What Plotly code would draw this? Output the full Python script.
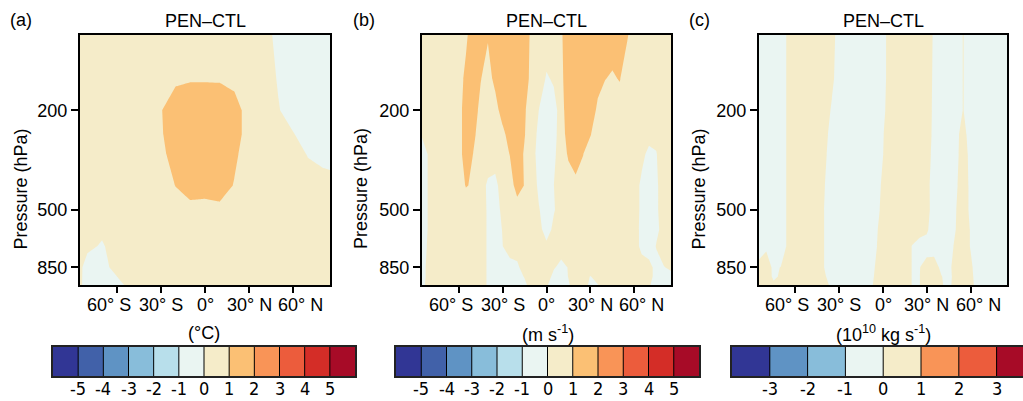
import math
import plotly.graph_objects as go

W, H = 1023, 401

# ---------------- data ----------------
# Panel (a): temperature difference (°C)
lat_a = [-85, -80, -70, -60, -50, -40, -30, -20, -10, 0, 10, 20, 30, 40, 50, 60, 70, 80, 85]
p_a = [100, 150, 200, 250, 300, 400, 500, 700, 850, 1000]
t_a = [
    [0.5, 0.5, 0.5, 0.5, 0.5, 0.5, 0.5, 0.5, 0.5, 0.5, 0.5, 0.5, 0.5, 0.4, -0.3, -0.4, -0.4, -0.4, -0.4],
    [0.5, 0.5, 0.5, 0.5, 0.5, 0.5, 0.6, 0.84, 0.93, 0.93, 0.93, 0.73, 0.5, 0.45, -0.08, -0.4, -0.4, -0.4, -0.4],
    [0.5, 0.5, 0.5, 0.5, 0.5, 0.5, 0.95, 1.5, 1.6, 1.6, 1.5, 1.4, 0.6, 0.5, 0.05, -0.4, -0.4, -0.4, -0.4],
    [0.5, 0.5, 0.5, 0.5, 0.5, 0.5, 0.9, 1.5, 1.6, 1.6, 1.5, 1.4, 0.6, 0.5, 0.4, 0.05, -0.4, -0.4, -0.4],
    [0.5, 0.5, 0.5, 0.5, 0.5, 0.5, 0.7, 1.5, 1.6, 1.6, 1.5, 1.15, 0.6, 0.5, 0.5, 0.4, -0.05, -0.3, -0.35],
    [0.5, 0.5, 0.5, 0.5, 0.5, 0.5, 0.5, 1.02, 1.3, 1.3, 1.4, 0.95, 0.5, 0.5, 0.5, 0.5, 0.4, 0.4, 0.35],
    [0.5, 0.5, 0.5, 0.5, 0.5, 0.5, 0.5, 0.6, 0.8, 0.75, 0.8, 0.6, 0.5, 0.5, 0.5, 0.5, 0.5, 0.5, 0.5],
    [0.5, 0.2, -0.1, 0.4, 0.5, 0.5, 0.5, 0.5, 0.5, 0.5, 0.5, 0.5, 0.5, 0.5, 0.5, 0.5, 0.5, 0.5, 0.5],
    [0.2, -0.4, -0.3, 0.3, 0.5, 0.5, 0.5, 0.5, 0.5, 0.5, 0.5, 0.5, 0.5, 0.5, 0.5, 0.5, 0.5, 0.5, 0.5],
    [0.2, -0.5, -0.5, -0.3, 0.3, 0.5, 0.5, 0.5, 0.5, 0.5, 0.5, 0.5, 0.5, 0.5, 0.5, 0.5, 0.5, 0.5, 0.5],
]
missing_a_lat = [-85, -80.5]
missing_a_p = [500, 1000]

# Panels (b) and (c) share a 5-degree latitude grid
lat_bc = [-85, -80, -75, -70, -65, -60, -55, -50, -45, -40, -35, -30, -25, -20, -15, -10, -5, 0,
          5, 10, 15, 20, 25, 30, 35, 40, 45, 50, 55, 60, 65, 70, 75, 80, 85]
p_bc = [100, 150, 200, 250, 300, 400, 500, 600, 700, 850, 925, 1000]

# Panel (b): zonal wind difference (m s-1)
u_b = [
    [0.5, 0.5, 0.5, 0.5, 0.5, 0.5, 0.84, 1.5, 1.5, 1.1, 1.5, 1.5, 1.5, 1.5, 1.5, 0.77, 0.5, 0.5,
     0.6, 0.89, 1.5, 1.5, 1.5, 1.5, 1.5, 1.5, 1.5, 1.5, 1.1, 0.5, 0.5, 0.5, 0.5, 0.5, 0.5],
    [0.5, 0.5, 0.5, 0.5, 0.5, 0.64, 1.2, 1.5, 1.05, 0.55, 1.3, 1.5, 1.5, 1.5, 1.5, 0.64, 0.5, -0.1,
     0.1, 0.8, 1.5, 1.5, 1.5, 1.5, 1.3, 1.02, 0.875, 1.05, 0.5, 0.5, 0.5, 0.5, 0.5, 0.5, 0.5],
    [0.5, 0.5, 0.5, 0.5, 0.5, 0.57, 1.5, 1.5, 0.72, 0.5, 0.54, 1.5, 1.5, 1.5, 1.1, 0.54, -0.03, -0.6,
     -0.3, 0.35, 1.9, 1.5, 1.5, 1.5, 0.82, 0.5, 0.5, 0.5, 0.5, 0.5, 0.5, 0.5, 0.5, 0.5, 0.5],
    [0.1, 0.5, 0.5, 0.5, 0.5, 0.57, 1.5, 1.2, 0.58, 0.5, 0.5, 0.67, 1.5, 1.5, 1.05, 0.45, -0.25, -0.6,
     -0.4, 0.6, 1.34, 1.5, 1.5, 1.05, 0.5, 0.5, 0.5, 0.5, 0.5, 0.5, 0.5, 0.4, 0.2, 0.5, 0.5],
    [-0.5, 0.15, 0.5, 0.5, 0.5, 0.57, 1.5, 0.98, 0.5, 0.5, 0.5, 0.5, 1.03, 1.5, 0.89, 0.3, -0.3, -0.6,
     -0.2, 0.51, 1.11, 1.5, 1.02, 0.5, 0.5, 0.5, 0.5, 0.5, 0.5, 0.5, 0.3, -0.3, -0.04, 0.5, 0.5],
    [-0.5, 0.15, 0.5, 0.5, 0.5, 0.5, 1.05, 0.9, 0.4, -0.15, -0.3, 0.5, 0.5, 1.43, 0.96, 0.5, -0.21, -0.5,
     -0.01, 0.5, 0.6, 0.73, 0.6, 0.5, 0.5, 0.5, 0.5, 0.5, 0.5, 0.5, -0.24, -0.5, -0.1, 0.3, 0.5],
    [-0.5, 0.15, 0.5, 0.5, 0.5, 0.5, 0.5, 0.5, 0.5, -0.125, -0.4, 0.21, 0.5, 0.5, 0.5, 0.5, 0.04, -0.46,
     -0.1, 0.5, 0.5, 0.5, 0.5, 0.5, 0.5, 0.5, 0.5, 0.5, 0.5, 0.5, -0.24, -0.5, -0.1, 0.3, 0.5],
    [-0.5, 0.15, 0.5, 0.5, 0.5, 0.5, 0.5, 0.5, 0.5, -0.125, -0.4, 0.035, 0.5, 0.5, 0.5, 0.5, 0.4, -0.6,
     0.3, 0.5, 0.5, 0.5, 0.5, 0.5, 0.5, 0.5, 0.5, 0.5, 0.5, 0.5, -0.3, -0.5, -0.2, 0.3, 0.5],
    [-0.4, 0.2, 0.5, 0.5, 0.5, 0.5, 0.5, 0.5, 0.5, -0.125, -0.4, -0.02, 0.5, 0.5, 0.5, 0.5, 0.5, 0.3,
     0.5, 0.5, 0.5, 0.5, 0.5, 0.5, 0.5, 0.5, 0.5, 0.5, 0.5, 0.5, -0.3, -0.5, 0.05, 0.5, 0.5],
    [-0.3, 0.3, 0.5, 0.5, 0.5, 0.5, 0.5, 0.5, 0.5, -0.125, -0.4, -0.4, -0.4, -0.21, 0.5, 0.5, 0.5, 0.5,
     0.1, -0.3, 0.05, 0.5, 0.5, 0.5, 0.5, 0.5, 0.5, 0.5, 0.5, 0.5, 0.5, 0.3, -0.3, -0.05, 0.2],
    [-0.3, 0.3, 0.5, 0.5, 0.5, 0.5, 0.5, 0.5, 0.5, -0.125, -0.4, -0.4, -0.4, -0.3, 0.05, 0.5, 0.5, 0.5,
     -0.28, -0.4, 0.03, 0.5, 0.5, -0.05, 0.5, 0.5, 0.5, 0.5, 0.5, 0.5, 0.5, 0.3, -0.3, -0.4, -0.3],
    [-0.2, 0.3, 0.5, 0.5, 0.5, 0.5, 0.5, 0.5, 0.5, -0.125, -0.4, -0.4, -0.4, -0.4, -0.2, 0.4, 0.5, 0.1,
     -0.4, -0.4, -0.1, 0.5, 0.4, -0.2, -0.05, 0.5, 0.5, 0.5, 0.5, 0.5, 0.5, 0.1, -0.4, -0.4, -0.4],
]

# Panel (c): mass stream function difference (10^10 kg s-1)
psi_c = [
    [-0.5, -0.5, -0.5, -0.5, 0.18, 0.5, 0.5, 0.5, 0.5, 0.5, 0.4, -0.5, -0.5, -0.5, -0.5, -0.5, -0.5, -0.4,
     0.55, 0.5, 0.5, 0.5, 0.5, 0.5, -0.125, -0.5, -0.5, -0.4, 0.03, -0.5, -0.5, -0.5, -0.5, -0.5, -0.5],
    [-0.5, -0.5, -0.5, -0.5, 0.18, 0.5, 0.5, 0.5, 0.5, 0.5, 0.2, -0.5, -0.5, -0.5, -0.5, -0.5, -0.5, -0.4,
     0.55, 0.5, 0.5, 0.5, 0.5, 0.5, -0.18, -0.5, -0.5, -0.4, 0.03, -0.5, -0.5, -0.5, -0.5, -0.5, -0.5],
    [-0.5, -0.5, -0.5, -0.5, 0.18, 0.5, 0.5, 0.5, 0.5, 0.5, -0.125, -0.5, -0.5, -0.5, -0.5, -0.5, -0.5, -0.3,
     0.64, 0.5, 0.5, 0.5, 0.5, 0.5, -0.21, -0.5, -0.5, -0.4, 0.03, -0.5, -0.5, -0.5, -0.5, -0.5, -0.5],
    [-0.5, -0.5, -0.5, -0.5, 0.18, 0.5, 0.5, 0.5, 0.5, 0.5, -0.59, -0.5, -0.5, -0.5, -0.5, -0.5, -0.5, -0.05,
     0.45, 0.5, 0.5, 0.5, 0.5, 0.5, -0.26, -0.5, -0.5, -0.3, 0.4, -0.5, -0.5, -0.5, -0.5, -0.5, -0.5],
    [-0.5, -0.5, -0.5, -0.5, 0.18, 0.5, 0.5, 0.5, 0.5, 0.2, -0.5, -0.5, -0.5, -0.5, -0.5, -0.5, -0.5, -0.02,
     0.5, 0.5, 0.5, 0.5, 0.5, 0.5, -0.39, -0.5, -0.5, -0.3, 0.5, -0.3, -0.5, -0.5, -0.5, -0.5, -0.5],
    [-0.5, -0.5, -0.5, -0.5, 0.18, 0.5, 0.5, 0.5, 0.5, 0.02, -0.5, -0.5, -0.5, -0.5, -0.5, -0.5, -0.5, 0.21,
     0.5, 0.5, 0.5, 0.5, 0.5, 0.5, -0.75, -0.5, -0.5, -0.15, 0.5, -0.2, -0.5, -0.5, -0.5, -0.5, -0.5],
    [-0.5, -0.5, -0.5, -0.5, 0.18, 0.5, 0.5, 0.5, 0.5, -0.04, -0.5, -0.5, -0.5, -0.5, -0.5, -0.5, -0.5, 0.39,
     0.5, 0.5, 0.5, 0.5, 0.5, 0.5, -0.67, -0.5, -0.5, -0.03, 0.5, -0.2, -0.5, -0.5, -0.5, -0.5, -0.5],
    [-0.5, -0.5, -0.5, -0.5, 0.18, 0.5, 0.5, 0.5, 0.5, -0.04, -0.5, -0.5, -0.5, -0.5, -0.5, -0.5, -0.2, 0.5,
     0.5, 0.5, 0.5, 0.5, 0.5, 0.2, -0.7, -0.5, -0.5, 0.01, 0.5, -0.05, -0.5, -0.5, -0.5, -0.5, -0.5],
    [-0.5, -0.1, -0.5, -0.5, 0.18, 0.5, 0.5, 0.5, 0.5, -0.04, -0.5, -0.5, -0.5, -0.5, -0.5, -0.5, -0.1, 0.45,
     0.5, 0.5, 0.5, -0.04, -0.5, -0.5, -0.5, -0.5, -0.5, 0.25, 0.5, -0.05, -0.5, -0.5, -0.5, -0.5, -0.5],
    [0.3, 0.3, -0.12, 0.02, 0.5, 0.5, 0.5, 0.5, 0.5, -0.04, -0.5, -0.5, -0.5, -0.5, -0.5, -0.5, 0.07, 0.5,
     0.5, 0.5, 0.5, -0.04, -0.05, 0.45, 0.5, -0.26, -0.3, 0.5, 0.5, 0.2, -0.5, -0.5, -0.5, -0.5, -0.5],
    [0.3, 0.3, -0.1, 0.07, 0.5, 0.5, 0.5, 0.5, 0.5, 0.1, -0.4, -0.5, -0.5, -0.5, -0.5, -0.5, 0.16, 0.5,
     0.5, 0.5, 0.5, -0.04, -0.03, 0.5, 0.5, 0.05, -0.4, 0.5, 0.5, 0.3, -0.5, -0.5, -0.5, -0.5, -0.5],
    [0.3, 0.3, 0.1, 0.3, 0.5, 0.5, 0.5, 0.5, 0.5, 0.5, -0.36, -0.5, -0.5, -0.5, -0.5, -0.5, 0.33, 0.5,
     0.5, 0.5, 0.5, -0.04, -0.03, 0.5, 0.5, 0.1, -0.3, 0.5, 0.5, 0.4, -0.5, -0.5, -0.5, -0.5, -0.5],
]
missing_c_lat = [-85, -80.5]
missing_c_p = [850, 1000]

# contour levels / colour bins
levels_ab = [-5, -4, -3, -2, -1, 0, 1, 2, 3, 4, 5]
levels_c = [-3, -2, -1, 0, 1, 2, 3]
colors_ab = ["#313695", "#4161a9", "#5f93c4", "#88bdda", "#b8dfeb", "#eaf5f2",
             "#f5ecc9", "#fbc074", "#f99457", "#ec5c3c", "#d42d27", "#a70b27"]
colors_c = ["#313695", "#5f93c4", "#88bdda", "#eaf5f2", "#f5ecc9", "#f99457", "#ec5c3c", "#a70b27"]

lat_ticks = [-60, -30, 0, 30, 60]
lat_ticktext = ["60° S", "30° S", "0°", "30° N", "60° N"]
lat_label_shift = [-8, 0, 0, 0, 7.5]      # outer labels sit slightly outward
p_ticks = [200, 500, 850]
p_ticktext = ["200", "500", "850"]

panel_letters = ["(a)", "(b)", "(c)"]
panel_title = "PEN\u2013CTL"
unit_titles = ["(°C)", "(m s<sup>-1</sup>)", "(10<sup>10</sup> kg s<sup>-1</sup>)"]
ytitle = "Pressure (hPa)"

# ---------------- layout geometry (pixels) ----------------
panel_x = [(80, 330), (422, 671), (759, 1007)]
panel_y = (35, 285)
bar_x = [(53, 355), (396, 699), (732, 1023)]
bar_y = (347, 376)
c_box_px = 37.8

FONT = "Liberation Sans, Arial, Helvetica, sans-serif"
NARROW = "Liberation Sans Narrow, Arial Narrow, DejaVu Sans Condensed, Liberation Sans, sans-serif"
FS = 18


def fx(x):
    return x / W


def fy(y):
    return 1 - y / H


def discrete_scale(colors):
    n = len(colors)
    return [[k / (n - 1), c] for k, c in enumerate(colors)]


fig = go.Figure()

panels = [
    (lat_a, p_a, t_a, levels_ab, colors_ab, (missing_a_lat, missing_a_p)),
    (lat_bc, p_bc, u_b, levels_ab, colors_ab, None),
    (lat_bc, p_bc, psi_c, levels_c, colors_c, (missing_c_lat, missing_c_p)),
]

layout_axes = {}
annotations = []
for i, (lat, p, z, levels, colors, missing) in enumerate(panels):
    xa = "x" if i == 0 else "x%d" % (i + 1)
    ya = "y" if i == 0 else "y%d" % (i + 1)
    step = levels[1] - levels[0]
    fig.add_trace(go.Contour(
        x=lat, y=p, z=z, xaxis=xa, yaxis=ya,
        autocontour=False,
        contours=dict(start=levels[0], end=levels[-1], size=step,
                      coloring="fill", showlines=False),
        line=dict(width=0, smoothing=0),
        colorscale=discrete_scale(colors), showscale=False, hoverinfo="skip",
    ))
    if missing is not None:
        fig.add_trace(go.Heatmap(
            x=missing[0], y=missing[1], z=[[1]], xaxis=xa, yaxis=ya,
            colorscale=[[0, "white"], [1, "white"]], showscale=False, hoverinfo="skip",
        ))
    x0, x1 = panel_x[i]
    layout_axes["xaxis" if i == 0 else "xaxis%d" % (i + 1)] = dict(
        domain=[fx(x0), fx(x1)], anchor=ya, range=[min(lat), max(lat)], automargin=False,
        tickmode="array", tickvals=lat_ticks, showticklabels=False,
        ticks="outside", ticklen=6, tickwidth=1.5, tickcolor="black",
        showline=True, mirror=True, linecolor="black", linewidth=2,
        showgrid=False, zeroline=False,
    )
    layout_axes["yaxis" if i == 0 else "yaxis%d" % (i + 1)] = dict(
        domain=[fy(panel_y[1]), fy(panel_y[0])], anchor=xa, type="log", automargin=False,
        range=[math.log10(max(p)), math.log10(min(p))],
        tickmode="array", tickvals=p_ticks, ticktext=p_ticktext,
        ticks="outside", ticklen=7, tickwidth=1.5, tickcolor="black",
        showline=True, mirror=True, linecolor="black", linewidth=2,
        showgrid=False, zeroline=False,
        tickfont=dict(family=FONT, size=FS, color="black"),
    )
    # latitude labels (outer ones nudged outward as in the original)
    for v, t, s in zip(lat_ticks, lat_ticktext, lat_label_shift):
        annotations.append(dict(text=t, x=v, xref=xa, y=fy(305), yref="paper", xshift=s,
                                showarrow=False, xanchor="center", yanchor="middle",
                                font=dict(family=FONT, size=FS, color="black")))

    # ---------- colour bar drawn as a heatmap on its own axes ----------
    j = i + 4
    bxa, bya = "x%d" % j, "y%d" % j
    edges = [levels[0] - step] + list(levels) + [levels[-1] + step]
    centers = [(edges[k] + edges[k + 1]) / 2 for k in range(len(edges) - 1)]
    fig.add_trace(go.Heatmap(
        x=centers, y=[0], z=[centers], xaxis=bxa, yaxis=bya,
        zmin=centers[0], zmax=centers[-1], colorscale=discrete_scale(colors),
        showscale=False, hoverinfo="skip",
    ))
    sx, sy = [], []
    for e in levels:
        sx += [e, e, None]
        sy += [-0.5, 0.5, None]
    fig.add_trace(go.Scatter(x=sx, y=sy, mode="lines", xaxis=bxa, yaxis=bya,
                             line=dict(color="black", width=1), hoverinfo="skip",
                             showlegend=False))
    bx0, bx1 = bar_x[i]
    box_px = (bar_x[0][1] - bar_x[0][0]) / len(colors_ab) if i < 2 else c_box_px
    xr_right = edges[0] + (bx1 - bx0) / box_px
    layout_axes["xaxis%d" % j] = dict(
        domain=[fx(bx0), fx(bx1)], anchor=bya, automargin=False,
        range=[edges[0], min(edges[-1], xr_right)],
        showticklabels=False, ticks="", showline=True, mirror=True, linecolor="#222", linewidth=1.5,
        showgrid=False, zeroline=False,
    )
    layout_axes["yaxis%d" % j] = dict(
        domain=[fy(bar_y[1]), fy(bar_y[0])], anchor=bxa, range=[-0.5, 0.5], automargin=False,
        showticklabels=False, ticks="", showgrid=False, zeroline=False,
        showline=True, mirror=(i < 2), linecolor="#222", linewidth=1.5,
    )
    for v in levels:
        annotations.append(dict(text=str(v), x=v, xref=bxa, y=fy(388), yref="paper",
                                showarrow=False, xanchor="center", yanchor="middle",
                                font=dict(family=NARROW, size=FS, color="black")))

ytitle_x = [20.5, 361, 698.5]
letter_x = [21, 364, 699]
for i in range(3):
    x0, x1 = panel_x[i]
    annotations.append(dict(text=panel_title, x=fx((x0 + x1) / 2), y=fy(21), xref="paper", yref="paper",
                            showarrow=False, xanchor="center", yanchor="middle",
                            font=dict(family=FONT, size=FS, color="black")))
    annotations.append(dict(text=panel_letters[i], x=fx(letter_x[i]), y=fy(20), xref="paper", yref="paper",
                            showarrow=False, xanchor="center", yanchor="middle",
                            font=dict(family=FONT, size=FS, color="black")))
    annotations.append(dict(text=ytitle, x=fx(ytitle_x[i]), y=fy(189), xref="paper", yref="paper",
                            showarrow=False, xanchor="center", yanchor="middle", textangle=-90,
                            font=dict(family=FONT, size=FS, color="black")))
    bx0, bx1 = bar_x[i]
    cx = (bx0 + bx1) / 2 if i < 2 else 883
    annotations.append(dict(text=unit_titles[i], x=fx(cx), y=fy(333), xref="paper", yref="paper",
                            showarrow=False, xanchor="center", yanchor="middle",
                            font=dict(family=FONT, size=FS, color="black")))

fig.update_layout(
    width=W, height=H, margin=dict(l=0, r=0, t=0, b=0, autoexpand=False),
    paper_bgcolor="white", plot_bgcolor="white", showlegend=False,
    annotations=annotations, **layout_axes,
)

# remove the browser's default page margin so the figure sits at the window origin
fig.write_html("out.html", config={"displayModeBar": False},
               post_script="document.body.style.margin='0';document.body.style.overflow='hidden';")
